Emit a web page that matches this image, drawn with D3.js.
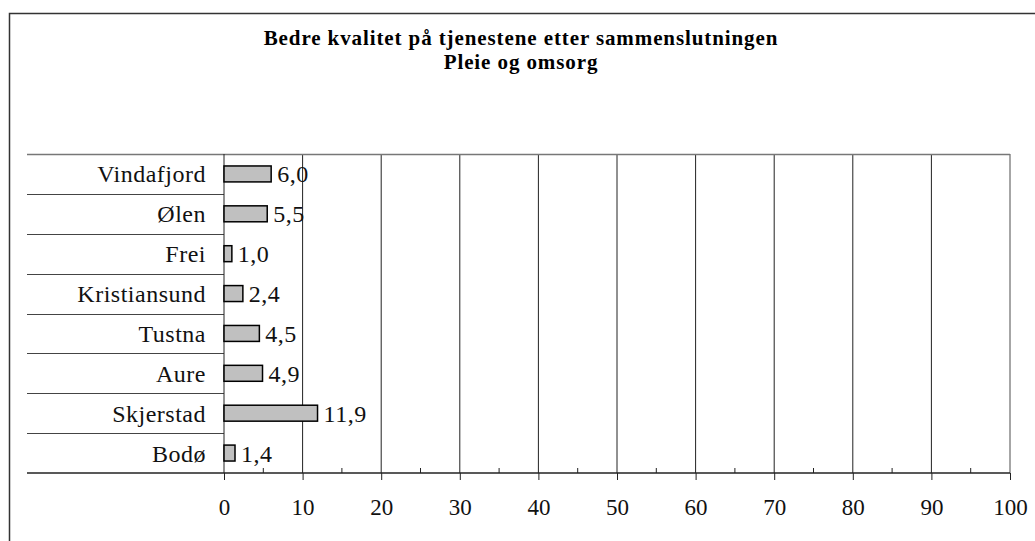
<!DOCTYPE html>
<html>
<head>
<meta charset="utf-8">
<script src="https://cdn.jsdelivr.net/npm/d3@7"></script>
<style>
body { margin: 0; background: #fff; }
svg { display: block; }
svg text { font-family: "Liberation Serif", "Times New Roman", serif; }
</style>
</head>
<body>
<div id="chart"></div>
<script>
var kommuner = ["Vindafjord", "Ølen", "Frei", "Kristiansund", "Tustna", "Aure", "Skjerstad", "Bodø"]
var verdier = [6.0, 5.5, 1.0, 2.4, 4.5, 4.9, 11.9, 1.4]
var tikker = [0, 10, 20, 30, 40, 50, 60, 70, 80, 90, 100]
var tittel = ["Bedre kvalitet på tjenestene etter sammenslutningen", "Pleie og omsorg"]

var w = 1035, h = 541
var venstre = 224, hoyre = 1010, topp = 154, bunn = 473, kant = 27

var svg = d3.select("#chart").append("svg")
    .attr("width", w)
    .attr("height", h)

// ramme rundt hele diagrammet
svg.append("rect")
    .attr("x", 9.5).attr("y", 13.5)
    .attr("width", w + 10).attr("height", h + 10)
    .attr("fill", "none")
    .attr("stroke", "#333")
    .attr("stroke-width", 1.5)

svg.selectAll("text.tittel")
    .data(tittel)
    .enter().append("text")
    .attr("class", "tittel")
    .attr("x", 521)
    .attr("y", function(d, i) { return 45 + i * 24 })
    .attr("text-anchor", "middle")
    .attr("font-weight", "bold")
    .attr("font-size", 21)
    .attr("letter-spacing", 0.9)
    .text(function(d) { return d })

var x = d3.scaleLinear().domain([0, 100]).range([venstre, hoyre])
var y = d3.scaleBand().domain(kommuner).range([topp, bunn]).paddingInner(0.6).paddingOuter(0.3)

// rutenett
svg.append("g")
    .selectAll("line")
    .data(tikker.slice(1))
    .enter().append("line")
    .attr("x1", function(d) { return x(d) }).attr("x2", function(d) { return x(d) })
    .attr("y1", topp).attr("y2", bunn)
    .attr("stroke", function(d) { return d == 100 ? "#888" : "#222" })
    .attr("stroke-width", function(d) { return d == 100 ? 1.5 : 1 })

// toppstrek
svg.append("line")
    .attr("x1", kant).attr("x2", hoyre)
    .attr("y1", topp + 0.5).attr("y2", topp + 0.5)
    .attr("stroke", "#777").attr("stroke-width", 1.5)

// skillelinjer mellom kategoriene
var grenser = d3.range(1, kommuner.length).map(function(i) { return topp + i * (bunn - topp) / kommuner.length })
svg.append("g")
    .selectAll("line")
    .data(grenser)
    .enter().append("line")
    .attr("x1", kant).attr("x2", venstre)
    .attr("y1", function(d) { return Math.round(d) + 0.5 }).attr("y2", function(d) { return Math.round(d) + 0.5 })
    .attr("stroke", "#444")
    .attr("stroke-width", 1)

// y-akse
svg.append("line")
    .attr("x1", venstre).attr("x2", venstre)
    .attr("y1", topp).attr("y2", bunn)
    .attr("stroke", "#222")

// x-akse
var xAkse = d3.axisBottom(x).tickValues(tikker).tickSize(7).tickPadding(19)
    .tickFormat(d3.format("d"))
var ga = svg.append("g")
    .attr("transform", "translate(0," + bunn + ")")
    .call(xAkse)
ga.select(".domain").remove()
ga.selectAll(".tick line").attr("stroke", "#222")
ga.selectAll(".tick text")
    .attr("font-family", "Liberation Serif, Times New Roman, serif")
    .attr("font-size", 23)
    .attr("fill", "#111")
svg.append("line")
    .attr("x1", kant).attr("x2", hoyre)
    .attr("y1", bunn).attr("y2", bunn)
    .attr("stroke", "#222").attr("stroke-width", 1.5)

// små mellomstreker
svg.append("g")
    .selectAll("line")
    .data(d3.range(5, 100, 10))
    .enter().append("line")
    .attr("x1", function(d) { return x(d) }).attr("x2", function(d) { return x(d) })
    .attr("y1", bunn - 5).attr("y2", bunn)
    .attr("stroke", "#222")

// kategorinavn
svg.append("g")
    .selectAll("text")
    .data(kommuner)
    .enter().append("text")
    .attr("x", venstre - 18)
    .attr("y", function(d) { return y(d) + y.bandwidth() / 2 + 8.5 })
    .attr("text-anchor", "end")
    .attr("font-size", 24)
    .attr("letter-spacing", 0.5)
    .attr("fill", "#111")
    .text(function(d) { return d })

// stolper
svg.append("g")
    .selectAll("rect")
    .data(verdier)
    .enter().append("rect")
    .attr("x", x(0))
    .attr("y", function(d, i) { return y(kommuner[i]) })
    .attr("width", function(d) { return x(d) - x(0) })
    .attr("height", y.bandwidth())
    .attr("fill", "#c0c0c0")
    .attr("stroke", "#000")
    .attr("stroke-width", 1.5)

// verdietiketter
svg.append("g")
    .selectAll("text")
    .data(verdier)
    .enter().append("text")
    .attr("x", function(d) { return x(d) + 6 })
    .attr("y", function(d, i) { return y(kommuner[i]) + y.bandwidth() / 2 + 8.5 })
    .attr("font-size", 24)
    .attr("letter-spacing", 0.5)
    .attr("fill", "#111")
    .text(function(d) { return d.toFixed(1).replace(".", ",") })
</script>
</body>
</html>
